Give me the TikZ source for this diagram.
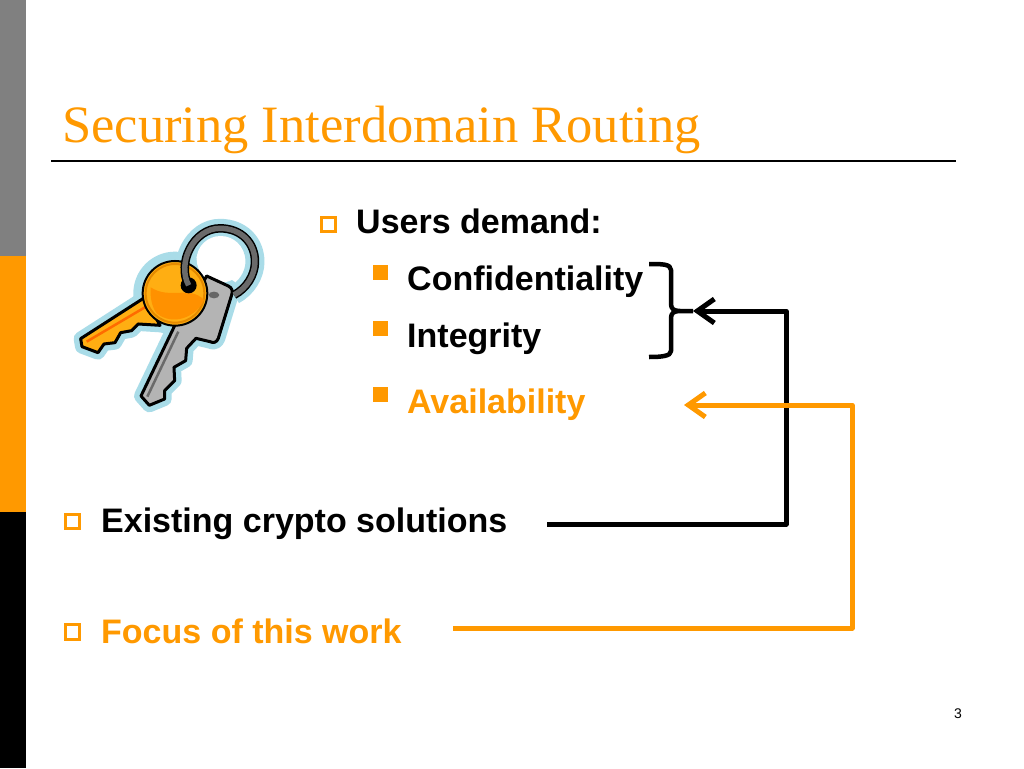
\documentclass[tikz,border=0pt]{standalone}
\usepackage{fontspec}
\setmainfont{Liberation Sans}
\newfontfamily\titlefont{Liberation Serif}
\usetikzlibrary{arrows.meta}
\definecolor{accent}{HTML}{FF9900}
\definecolor{halo}{HTML}{A9DCE8}
\definecolor{goldkey}{HTML}{FFAE12}
\definecolor{silverkey}{HTML}{B4B4B4}
\definecolor{ringgray}{HTML}{6A6A6A}
\tikzset{
  body/.style={anchor=base west,inner sep=0pt,font=\fontsize{34}{38}\selectfont\bfseries},
  hollowbullet/.style={draw=accent,line width=3pt,fill=white,minimum size=14.5pt,inner sep=0pt,outer sep=0pt},
  solidbullet/.style={fill=accent,minimum size=15pt,inner sep=0pt,outer sep=0pt},
  link/.style={line width=5pt,line join=round,-{Straight Barb[length=17pt,width=24pt,line width=5pt]}},
}
\begin{document}
\begin{tikzpicture}[x=1pt,y=-1pt]
\useasboundingbox (0,0) rectangle (1024,768);
\fill[white] (0,0) rectangle (1024,768);
\fill[black!50] (0,0) rectangle (26,256);
\fill[accent] (0,256) rectangle (26,512);
\fill[black] (0,512) rectangle (26,768);
\node[anchor=base west,inner sep=0pt,text=accent] (title) at (62,142) {\titlefont\fontsize{52.5}{60}\selectfont Securing Interdomain Routing};
\draw[line width=2pt] (51,161) coordinate (rulea) -- (956,161) coordinate (ruleb);

% key illustration
\begin{scope}[shift={(60,200)},x=0.3333pt,y=-0.3333pt,line join=round]
  \def\goldblade{(255,292) -- (62,416) -- (66,440) -- (114,458) -- (132,432) -- (165,428) -- (182,398) -- (215,392) -- (235,372) -- (300,376) -- cycle}
  \def\silverkeyshape{(440,228) -- (505,258) .. controls (518,264) and (518,275) .. (515,285) -- (475,415) .. controls (470,428) and (460,430) .. (450,425) -- (408,415) -- (380,445) -- (377,482) -- (342,502) -- (344,542) -- (314,572) -- (314,597) -- (268,616) -- (243,588) -- (345,375) -- (400,300) -- cycle}
  \def\ringpath{(386,256) .. controls (350,190) and (400,85) .. (480,85) .. controls (545,85) and (585,130) .. (585,185) .. controls (585,225) and (560,265) .. (522,285)}
  % halo
  \begin{scope}[draw=halo,fill=halo,line width=14pt]
    \filldraw \goldblade;
    \filldraw \silverkeyshape;
    \filldraw (345,280) circle (104);
    \draw[line width=19pt] \ringpath;
  \end{scope}
  \fill[white] (482,178) ellipse (72 and 70);
  % silver key
  \filldraw[fill=silverkey,draw=black,line width=3pt] \silverkeyshape;
  \draw[ringgray,line width=2.5pt] (355,395) -- (262,590);
  \fill[black!60] (462,285) ellipse (16 and 10);
  % gold key
  \filldraw[fill=goldkey,draw=black,line width=3pt] \goldblade;
  \draw[accent!70!red,line width=2.5pt] (275,310) -- (80,425);
  \filldraw[fill=goldkey,draw=black,line width=2pt] (345,280) circle (97);
  \draw[accent!90!black,line width=2pt] (345,280) circle (88);
  \fill[accent!95!red] (272,262) .. controls (330,300) and (390,255) .. (432,300) .. controls (410,350) and (340,380) .. (290,340) .. controls (275,320) and (270,290) .. (272,262) -- cycle;
  % ring
  \fill[black] (386,256) circle (24);
  \draw[black,line width=8.5pt] \ringpath;
  \draw[ringgray,line width=5.5pt] \ringpath;
\end{scope}

% text
\node[hollowbullet] (b1) at (328.5,224.5) {};
\node[body] (users) at (356,233) {Users demand:};
\node[solidbullet] (s1) at (380.5,272.5) {};
\node[body] (conf) at (407,290) {Confidentiality};
\node[solidbullet] (s2) at (380.5,328.5) {};
\node[body] (integ) at (407,347) {Integrity};
\node[solidbullet] (s3) at (380.5,394) {};
\node[body,text=accent] (avail) at (407,413) {Availability};
\node[hollowbullet] (b2) at (72.5,521.5) {};
\node[body] (exist) at (101,532) {Existing crypto solutions};
\node[hollowbullet] (b3) at (72.5,632) {};
\node[body,text=accent] (focus) at (101,643) {Focus of this work};
\node[anchor=base,inner sep=0pt,font=\fontsize{14}{16}\selectfont] (page) at (958,718) {3};

% brace
\coordinate (bracetip) at (693,311);
\draw[line width=4.5pt,line join=round] (649,264) .. controls (662,264) and (671,264) .. (671,270) -- (671,304) .. controls (671,309) and (674,311) .. (680,311) -- (bracetip) (680,311) .. controls (674,311) and (671,313) .. (671,318) -- (671,351) .. controls (671,356) and (662,357) .. (649,357);

% connectors
\coordinate (blackstart) at (547,524);
\coordinate (orangestart) at (453,628);
\coordinate (orangeend) at (684,405);
\draw[link] (blackstart) -- (786,524) -- (786,311) -- (bracetip);
\draw[link,accent] (orangestart) -- (852,628) -- (852,405) -- (orangeend);
\end{tikzpicture}
\end{document}
